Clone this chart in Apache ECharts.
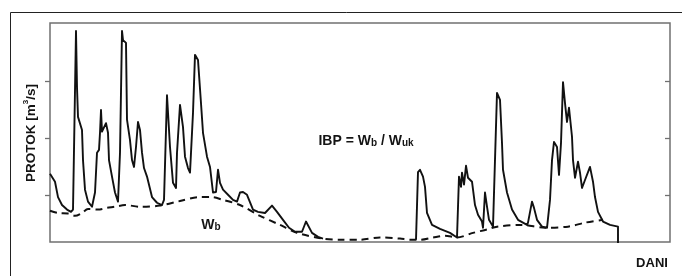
<!DOCTYPE html>
<html>
<head>
<meta charset="utf-8">
<script src="https://cdn.jsdelivr.net/npm/echarts@6/dist/echarts.min.js"></script>
<style>
  html, body { margin: 0; padding: 0; background: #fff; }
  #chart { width: 682px; height: 276px; }
</style>
</head>
<body>
<div id="chart"></div>
<script>
// dani (os x) i protok [m3/s] hidrograma; null = prekid linije
var flowDays = [0, 1, 2.5, 4, 6, 8.5, 10.5, 11.5, 13, 13.5, 14, 15, 16, 16.5, 17.5, 19, 21,
  22.5, 23.5, 24.5, 25, 25.5, 26, 27, 28, 29, 29.5, 31, 32.5, 34, 34.5, 35, 36, 36.5, 38,
  38.5, 40, 41, 42, 43, 44, 45, 46, 47, 48.5, 51, 53.5, 56, 57, 58.5, 60, 61.5, 63, 63.5,
  65, 66.5, 67.5, 69, 70, 71.5, 72.5, 74, 75.5, 76.5, 78.5, 80, 81.5, 83, 84, 85, 86.5, 89,
  91.5, 93.5, 95, 96.5, 98.5, 101.5, 104, 107.5, 111, 113.5, 116.5, 119.5, 122.5, 126, 128,
  129, 131, 134, 136.5, 160,
  183, 184, 185, 186.5, 187.5, 188.5, 191, 195, 200, 203.5, 204.5, 205.5, 206, 207, 208,
  209, 211, 212.5, 214, 216, 216.5, 217.5, 218.5, 219.5, 221.5, 222.5, 223.5, 225, 226,
  226.5, 228.5, 231, 234, 238.5, 239, 241, 242, 243.5, 246, 248.5, 250, 251, 252, 253.5,
  254.5, 255.5, 256.5, 257.5, 258.5, 259.5, 261, 261.5, 262.5, 264, 265, 266, 267.5, 270,
  271.5, 272.5, 274, 276.5, 280, 284, 284];
var flowValues = [13.7, 13.5, 12.3, 9.6, 8.2, 7.4, 7.0, 7.4, 38.8, 28.9, 23.7, 23.7, 21.4,
  16.1, 10.9, 8.8, 7.9, 10.4, 17.4, 17.9, 20.9, 24.9, 21.1, 20.9, 22.6, 20.9, 16.1, 13.2,
  10.4, 8.8, 9.1, 17.4, 38.8, 37.2, 36.7, 23.2, 19.6, 16.1, 14.9, 18.4, 22.8, 21.4, 17.4,
  14.7, 13.2, 9.6, 8.6, 8.2, 9.1, 27.5, 18.4, 12.1, 11.2, 17.4, 25.8, 21.9, 16.7, 14.7,
  13.9, 24.4, 34.6, 33.7, 26.1, 20.9, 16.7, 14.9, 10.4, 10.5, 14.4, 12.1, 10.9, 10.0, 9.1,
  8.8, 10.4, 10.5, 10.0, 7.4, 7.0, 6.8, 8.1, 7.0, 5.6, 4.2, 3.5, 3.5, 5.3, 5.1, 3.3, 2.6,
  2.3, null,
  2.1, 14.0, 14.4, 13.2, 11.4, 6.8, 4.7, 4.0, 3.3, 2.5, 13.2, 11.4, 13.9, 11.8, 15.1, 13.0,
  12.3, 8.2, 6.5, 5.3, 4.2, 10.4, 7.9, 5.6, 4.4, 4.6, 27.9, 26.7, 19.1, 14.4, 10.4, 7.4,
  5.6, 4.7, 5.1, 8.8, 7.7, 5.6, 4.4, 4.2, 9.1, 16.1, 19.3, 18.4, 13.5, 19.1, 29.8, 26.1,
  22.8, 25.3, 20.2, 16.1, 13.0, 15.8, 13.9, 11.2, 12.6, 14.9, 12.3, 9.6, 7.0, 5.3, 4.7,
  4.4, 1.5];

// bazni tok (isprekidana linija)
var baseDays = [0, 4, 9, 12.5, 16, 19, 24, 28.5, 32.5, 37.5, 45, 55, 65, 75, 81, 86.5, 95,
  105, 115, 123.5, 136.5, 145, 155, 165, 175, 180, 185, 191.5, 197.5, 203.5, 211.5, 218.5,
  223.5, 236, 247.5, 259, 267.5, 276.5];
var baseValues = [7.2, 6.8, 6.7, 6.3, 6.8, 7.5, 7.4, 7.7, 7.9, 8.2, 7.9, 8.1, 8.9, 9.6,
  9.6, 9.1, 8.2, 6.3, 4.7, 3.3, 2.3, 2.1, 2.1, 2.5, 2.3, 2.1, 2.1, 2.5, 2.8, 2.5, 3.3, 3.9,
  4.4, 4.7, 4.2, 4.4, 5.1, 5.6];

var yTicks = [10, 20, 30];

var flowData = flowDays.map(function (d, i) {
  return [d, flowValues[i] === null ? '-' : flowValues[i]];
});
var baseData = baseDays.map(function (d, i) { return [d, baseValues[i]]; });

var chart = echarts.init(document.getElementById('chart'));

var textColor = '#141414';
var axisGrey = '#707070';

var option = {
  backgroundColor: '#fff',
  animation: false,
  grid: {
    left: 50, right: 12, top: 23, height: 219,
    show: true, borderColor: axisGrey, borderWidth: 1.5
  },
  xAxis: {
    type: 'value', min: 0, max: 310,
    axisLine: { show: false }, axisTick: { show: false },
    axisLabel: { show: false }, splitLine: { show: false }
  },
  yAxis: [
    {
      type: 'value', min: 1.7, max: 40.2, position: 'left',
      axisLine: { show: false },
      axisTick: { show: true, inside: false, length: 5, customValues: yTicks,
        lineStyle: { color: axisGrey, width: 1.3 } },
      axisLabel: { show: false }, splitLine: { show: false }
    },
    {
      type: 'value', min: 1.7, max: 40.2, position: 'right',
      axisLine: { show: false },
      axisTick: { show: true, inside: true, length: 5, customValues: yTicks,
        lineStyle: { color: axisGrey, width: 1.3 } },
      axisLabel: { show: false }, splitLine: { show: false }
    }
  ],
  graphic: [
    // okvir slike
    {
      type: 'rect', silent: true,
      shape: { x: 10.5, y: 12.5, width: 700, height: 300 },
      style: { fill: 'none', stroke: '#222', lineWidth: 1 }
    },
    {
      type: 'text', x: 30, y: 133, rotation: Math.PI / 2,
      style: {
        text: '{a|PROTOK [m}{s|3}{a|/s]}',
        align: 'center', verticalAlign: 'middle',
        rich: {
          a: { fontFamily: 'Liberation Sans', fontSize: 13.5, fontWeight: 'bold',
            fill: textColor, verticalAlign: 'bottom', lineHeight: 16 },
          s: { fontFamily: 'Liberation Sans', fontSize: 8, fontWeight: 'bold',
            fill: textColor, verticalAlign: 'top', lineHeight: 16 }
        }
      }
    },
    {
      type: 'text', x: 366, y: 140,
      style: {
        text: '{a|IBP = W}{s|b}{a| / W}{s|uk}',
        align: 'center', verticalAlign: 'middle',
        rich: {
          a: { fontFamily: 'Liberation Sans', fontSize: 14, fontWeight: 'bold',
            fill: textColor, verticalAlign: 'bottom', lineHeight: 16 },
          s: { fontFamily: 'Liberation Sans', fontSize: 10, fontWeight: 'bold',
            fill: textColor, verticalAlign: 'bottom', lineHeight: 16 }
        }
      }
    },
    {
      type: 'text', x: 211, y: 224,
      style: {
        text: '{a|W}{s|b}',
        align: 'center', verticalAlign: 'middle',
        rich: {
          a: { fontFamily: 'Liberation Sans', fontSize: 14, fontWeight: 'bold',
            fill: textColor, verticalAlign: 'bottom', lineHeight: 16 },
          s: { fontFamily: 'Liberation Sans', fontSize: 10, fontWeight: 'bold',
            fill: textColor, verticalAlign: 'bottom', lineHeight: 16 }
        }
      }
    },
    {
      type: 'text', x: 652, y: 263,
      style: {
        text: 'DANI', align: 'center', verticalAlign: 'middle',
        fontFamily: 'Liberation Sans', fontSize: 13, fontWeight: 'bold', fill: textColor
      }
    }
  ],
  series: [
    {
      name: 'bazni tok', type: 'line', data: baseData,
      symbol: 'none', smooth: 0.3,
      lineStyle: { color: '#111', width: 2, type: [7, 5] },
      z: 2
    },
    {
      name: 'protok', type: 'line', data: flowData,
      symbol: 'none', connectNulls: false,
      lineStyle: { color: '#111', width: 1.9, join: 'round' },
      z: 3
    }
  ]
};

chart.setOption(option);
</script>
</body>
</html>
